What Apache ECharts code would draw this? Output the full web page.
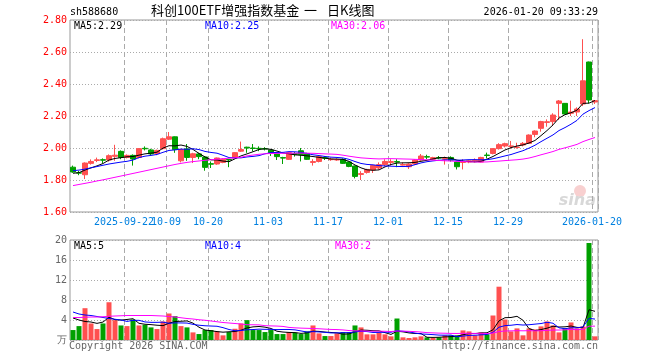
<!DOCTYPE html>
<html><head><meta charset="utf-8">
<script src="https://cdn.jsdelivr.net/npm/echarts@6/dist/echarts.min.js"></script>
<style>html,body{margin:0;padding:0;background:#fff}#c{width:660px;height:360px}</style>
</head><body><div id="c"></div>
<script>
const dates = ['2025-09-09','2025-09-10','2025-09-11','2025-09-12','2025-09-15','2025-09-16','2025-09-17','2025-09-18','2025-09-19','2025-09-22','2025-09-23','2025-09-24','2025-09-25','2025-09-26','2025-09-29','2025-09-30',
'2025-10-09','2025-10-10','2025-10-13','2025-10-14','2025-10-15','2025-10-16','2025-10-17','2025-10-20','2025-10-21','2025-10-22','2025-10-23','2025-10-24','2025-10-27','2025-10-28','2025-10-29','2025-10-30','2025-10-31',
'2025-11-03','2025-11-04','2025-11-05','2025-11-06','2025-11-07','2025-11-10','2025-11-11','2025-11-12','2025-11-13','2025-11-14','2025-11-17','2025-11-18','2025-11-19','2025-11-20','2025-11-21','2025-11-24','2025-11-25','2025-11-26','2025-11-27','2025-11-28',
'2025-12-01','2025-12-02','2025-12-03','2025-12-04','2025-12-05','2025-12-08','2025-12-09','2025-12-10','2025-12-11','2025-12-12','2025-12-15','2025-12-16','2025-12-17','2025-12-18','2025-12-19','2025-12-22','2025-12-23','2025-12-24','2025-12-25','2025-12-26','2025-12-29','2025-12-30','2025-12-31',
'2026-01-05','2026-01-06','2026-01-07','2026-01-08','2026-01-09','2026-01-12','2026-01-13','2026-01-14','2026-01-15','2026-01-16','2026-01-19','2026-01-20'];

const opens = [1.88,1.845,1.833,1.904,1.922,1.927,1.925,1.948,1.979,1.941,
1.954,1.941,1.998,1.988,1.965,1.996,2.055,2.07,1.92,1.994,
1.941,1.963,1.944,1.902,1.90,1.91,1.928,1.9375,1.98,2.005,
2.0,1.998,1.996,1.987,1.963,1.94,1.929,1.965,1.983,1.966,
1.91,1.916,1.94,1.927,1.925,1.929,1.9125,1.8875,1.835,1.8475,
1.8625,1.875,1.896,1.91,1.915,1.893,1.883,1.90,1.925,1.946,
1.93,1.94,1.93,1.941,1.9125,1.91,1.913,1.92,1.9125,1.956,
1.966,1.996,2.0125,2.01,2.003,2.019,2.029,2.085,2.123,2.16,
2.165,2.279,2.279,2.217,2.225,2.275,2.5375,2.2875];
const closes = [1.85,1.843,1.906,1.916,1.926,1.924,1.952,1.955,1.941,1.954,
1.931,1.996,1.995,1.963,1.985,2.058,2.07,1.99,1.99,1.941,
1.964,1.946,1.879,1.899,1.9375,1.93,1.925,1.971,1.99,2.0,
1.997,1.995,1.994,1.972,1.946,1.937,1.971,1.96,1.958,1.929,
1.915,1.946,1.936,1.93,1.928,1.904,1.885,1.8225,1.84,1.866,
1.891,1.896,1.916,1.915,1.912,1.897,1.90,1.925,1.95,1.943,
1.94,1.937,1.935,1.925,1.883,1.913,1.92,1.925,1.941,1.953,
1.996,2.021,2.027,2.013,2.006,2.029,2.081,2.106,2.165,2.164,
2.206,2.294,2.2125,2.225,2.244,2.42,2.30,2.296];
const lows = [1.845,1.83,1.806,1.896,1.912,1.905,1.915,1.92,1.93,1.935,
1.89,1.935,1.985,1.955,1.955,1.99,2.05,1.97,1.91,1.92,
1.906,1.93,1.858,1.875,1.895,1.905,1.88,1.935,1.975,1.97,
1.979,1.98,1.985,1.95,1.925,1.90,1.925,1.946,1.916,1.925,
1.89,1.91,1.925,1.92,1.92,1.90,1.88,1.81,1.80,1.84,
1.844,1.865,1.885,1.89,1.88,1.89,1.869,1.895,1.92,1.93,
1.925,1.93,1.896,1.915,1.866,1.866,1.905,1.91,1.91,1.935,
1.96,1.99,2.004,1.996,1.996,2.01,2.025,2.067,2.102,2.133,
2.1375,2.175,2.21,2.20,2.20,2.262,2.279,2.275];
const highs = [1.89,1.857,1.91,1.929,1.94,1.935,1.96,2.02,1.985,1.96,
1.96,2.0,2.01,1.995,1.99,2.065,2.10,2.072,1.995,2.025,
1.97,1.97,1.95,1.916,1.94,1.935,1.93,1.975,2.04,2.008,
2.025,2.01,2.005,1.99,1.965,1.945,1.975,1.975,2.0,1.97,
1.93,1.95,1.95,1.94,1.935,1.935,1.915,1.89,1.855,1.87,
1.895,1.91,1.93,1.93,1.93,1.91,1.905,1.93,1.9625,1.958,
1.945,1.95,1.946,1.948,1.915,1.93,1.925,1.935,1.945,1.971,
2.0,2.03,2.033,2.044,2.033,2.0375,2.085,2.11,2.17,2.179,
2.217,2.30,2.28,2.296,2.254,2.68,2.54,2.30];
const volumes = [1.99,2.78,6.36,3.31,2.19,3.31,7.55,3.97,2.91,2.78,
4.1,2.91,3.05,2.52,2.19,3.71,5.3,4.77,2.78,2.52,
1.52,1.19,1.99,1.99,1.72,0.93,1.59,2.25,3.31,3.97,
1.99,1.99,1.59,1.99,1.19,1.19,1.59,1.46,1.19,1.72,
2.91,1.32,0.79,0.79,1.32,1.59,1.59,2.91,2.52,1.13,
1.13,1.46,1.13,0.73,4.3,0.53,0.4,0.53,0.73,0.53,
0.4,0.53,0.93,0.93,0.93,1.92,1.72,0.93,1.52,1.13,
4.9,10.66,4.1,1.72,2.32,0.93,2.32,2.12,2.72,3.71,
2.91,1.52,2.32,3.51,2.32,2.72,19.4,0.73];

// moving-average values for days whose window starts before the first shown day
const ma5Head = [1.842,1.846,1.862,1.876];
const ma10Head = [1.858,1.862,1.868,1.876,1.884,1.892,1.9,1.906,1.912];
const ma30Head = [1.765,1.772,1.779,1.786,1.794,1.801,1.809,1.817,1.825,1.833,1.841,1.849,1.857,1.865,1.873,1.881,1.889,1.897,1.904,1.91,1.915,1.919,1.923,1.927,1.93,1.933,1.936,1.939,1.942];
const vma5Head = [4.4,4.0,3.7,3.6];
const vma10Head = [5.6,5.2,5.0,4.9,4.7,4.5,4.3,4.15,4.0];
const vma30Head = [4.5,4.5,4.55,4.6,4.6,4.65,4.75,4.8,4.85,4.9,4.9,4.9,4.9,4.9,4.85,4.8,4.7,4.6,4.45,4.3,4.2,4.05,3.95,3.8,3.65,3.5,3.4,3.3,3.2];

const tickDates = ['2025-09-22','2025-10-09','2025-10-20','2025-11-03','2025-11-17','2025-12-01','2025-12-15','2025-12-29','2026-01-20'];
const tickLabels = ['2025-09-22','10-09','10-20','11-03','11-17','12-01','12-15','12-29','2026-01-20'];
const priceTicks = [1.6, 2.8, 0.2];
const volTicks = [0, 20, 4];

const titleParts = ['科创100ETF增强指数基金', '一', '日K线图'];
const codeText = 'sh588680';
const timeText = '2026-01-20 09:33:29';
const maLabels = ['MA5:2.29','MA10:2.25','MA30:2.06'];
const vmaLabels = ['MA5:5','MA10:4','MA30:2'];

function movingAvg(vals, n, head){
  return vals.map((v,i)=>{
    if(i < n-1) return head[i];
    let s=0; for(let k=i-n+1;k<=i;k++) s+=vals[k];
    return +(s/n).toFixed(4);
  });
}
const tickIdx = tickDates.map(d=>dates.indexOf(d));
const isTick = {}; tickIdx.forEach(ix=>isTick[ix]=true);
const showTick = (i)=> !!isTick[i];

const UP='#ff5050', DOWN='#00a000';
const MONO='"DejaVu Sans Mono", "Liberation Mono", monospace';
const CJK='"Noto Sans CJK SC"';
const kdata = dates.map((d,i)=>[opens[i],closes[i],lows[i],highs[i]]);
const vdata = volumes.map((v,i)=>({value:v,itemStyle:{color: closes[i]>=opens[i]?UP:DOWN}}));

const splitX = {show:true, interval:showTick, lineStyle:{color:'#aaa',type:[5,3],width:1}};
const dotY = {show:true, lineStyle:{color:'#aaa',type:[1,2],width:1}};

const baseGraphics = [
    {type:'text', left:70, top:7, style:{text:codeText, font:'10px '+MONO, fill:'#000'}},
    {type:'text', left:151, top:4, style:{text:titleParts[0], font:'13px '+CJK, fill:'#000'}},
    {type:'text', left:304, top:4, style:{text:titleParts[1], font:'13px '+CJK, fill:'#000'}},
    {type:'text', left:327, top:4, style:{text:titleParts[2], font:'13px '+CJK, fill:'#000'}},
    {type:'text', right:62, top:7, style:{text:timeText, font:'10px '+MONO, fill:'#000'}},
    {type:'text', left:74, top:21, style:{text:maLabels[0], font:'10px '+MONO, fill:'#000'}},
    {type:'text', left:205, top:21, style:{text:maLabels[1], font:'10px '+MONO, fill:'#0000ff'}},
    {type:'text', left:331, top:21, style:{text:maLabels[2], font:'10px '+MONO, fill:'#ff00ff'}},
    {type:'text', left:74, top:241, style:{text:vmaLabels[0], font:'10px '+MONO, fill:'#000'}},
    {type:'text', left:205, top:241, style:{text:vmaLabels[1], font:'10px '+MONO, fill:'#0000ff'}},
    {type:'text', left:335, top:241, style:{text:vmaLabels[2], font:'10px '+MONO, fill:'#ff00ff'}},
    {type:'text', left:69, top:341, style:{text:'Copyright 2026 SINA.COM', font:'10px '+MONO, fill:'#666'}},
    {type:'text', right:62, top:341, style:{text:'http://finance.sina.com.cn', font:'10px '+MONO, fill:'#666'}},
    {type:'circle', shape:{cx:580, cy:191, r:6}, style:{fill:'#f8d0d0'}, silent:true},
    {type:'text', right:64, top:193, style:{text:'sina', font:'italic bold 16px "DejaVu Sans"', fill:'#d8d8d8'}}
];

const chart = echarts.init(document.getElementById('c'), null, {renderer:'canvas'});
chart.setOption({
  animation:false,
  grid:[
    {left:70, top:20, width:528, height:192, show:true, borderColor:'#999', borderWidth:1, backgroundColor:'transparent'},
    {left:70, top:240, width:528, height:100, show:true, borderColor:'#999', borderWidth:1, backgroundColor:'transparent'}
  ],
  xAxis:[
    {type:'category', gridIndex:0, data:dates, boundaryGap:true,
     axisLine:{show:false}, axisTick:{show:false, interval:showTick},
     axisLabel:{show:false, interval:showTick},
     splitLine:splitX},
    {type:'category', gridIndex:1, data:dates, boundaryGap:true,
     axisLine:{show:false}, axisTick:{show:false, interval:showTick},
     axisLabel:{show:false, interval:showTick}, splitLine:splitX}
  ],
  yAxis:[
    {type:'value', gridIndex:0, min:priceTicks[0], max:priceTicks[1], interval:priceTicks[2],
     axisLine:{show:false}, axisTick:{show:false},
     axisLabel:{color:'#ff0000', fontFamily:MONO, fontSize:10, margin:3, formatter:v=>v.toFixed(2)},
     splitLine:dotY},
    {type:'value', gridIndex:1, min:volTicks[0], max:volTicks[1], interval:volTicks[2],
     axisLine:{show:false}, axisTick:{show:false},
     axisLabel:{color:'#666', fontFamily:MONO, fontSize:10, margin:3, formatter:v=>v===0?'万':String(v)},
     splitLine:dotY}
  ],
  series:[
    {type:'candlestick', xAxisIndex:0, yAxisIndex:0, data:kdata, barWidth:5,
     itemStyle:{color:UP,color0:DOWN,borderColor:UP,borderColor0:DOWN,borderWidth:1}},
    {type:'line', xAxisIndex:0, yAxisIndex:0, data:movingAvg(closes,5,ma5Head), symbol:'none', lineStyle:{color:'#000',width:1}},
    {type:'line', xAxisIndex:0, yAxisIndex:0, data:movingAvg(closes,10,ma10Head), symbol:'none', lineStyle:{color:'#0000ff',width:1}},
    {type:'line', xAxisIndex:0, yAxisIndex:0, data:movingAvg(closes,30,ma30Head), symbol:'none', lineStyle:{color:'#ff00ff',width:1}},
    {type:'bar', xAxisIndex:1, yAxisIndex:1, data:vdata, barWidth:5},
    {type:'line', xAxisIndex:1, yAxisIndex:1, data:movingAvg(volumes,5,vma5Head), symbol:'none', lineStyle:{color:'#000',width:1}},
    {type:'line', xAxisIndex:1, yAxisIndex:1, data:movingAvg(volumes,10,vma10Head), symbol:'none', lineStyle:{color:'#0000ff',width:1}},
    {type:'line', xAxisIndex:1, yAxisIndex:1, data:movingAvg(volumes,30,vma30Head), symbol:'none', lineStyle:{color:'#ff00ff',width:1}}
  ],
  graphic: baseGraphics
});

// x tick labels sit on the band boundary before each labelled day (position from the axis scale)
const band = chart.getModel().getComponent('xAxis',0).axis.getBandWidth();
const labelGraphics = tickIdx.map((ix,j)=>{
  const px = chart.convertToPixel({xAxisIndex:0}, ix) - band/2;
  return {type:'text', x:px, y:222, style:{text:tickLabels[j], font:'10px '+MONO, fill:'#0080e0', textAlign:'center', textVerticalAlign:'middle'}};
});
chart.setOption({graphic: baseGraphics.concat(labelGraphics)});
</script></body></html>
